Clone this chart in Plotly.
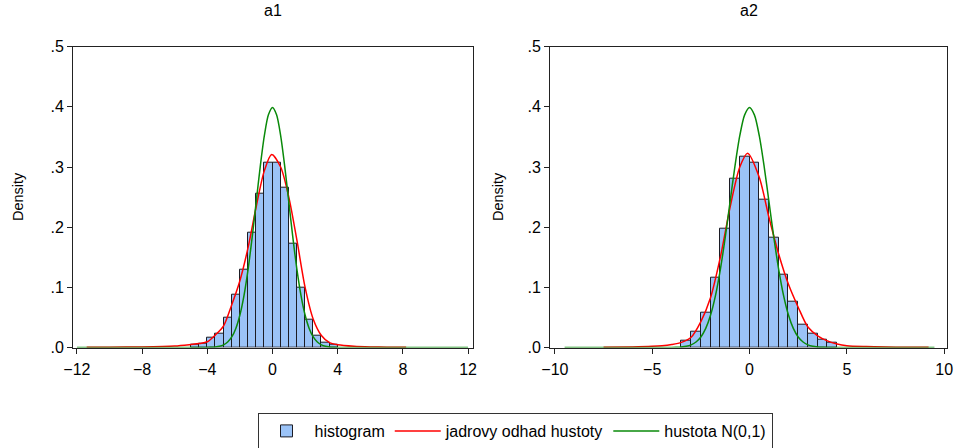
import plotly.graph_objects as go

# ---------------- data ----------------
bin_width = 0.5

# a1 histogram (bin left edges and densities)
a1_bin_left = [-5, -4.5, -4, -3.5, -3, -2.5, -2, -1.5, -1, -0.5, 0, 0.5, 1, 1.5, 2, 2.5, 3, 3.5]
a1_density = [0.0045, 0.006, 0.016, 0.023, 0.049, 0.0875, 0.129, 0.191, 0.255, 0.308,
              0.307, 0.265, 0.173, 0.099, 0.047, 0.020, 0.008, 0.004]

# a2 histogram
a2_bin_left = [-3.5, -3, -2.5, -2, -1.5, -1, -0.5, 0, 0.5, 1, 1.5, 2, 2.5, 3, 3.5, 4]
a2_density = [0.012, 0.0255, 0.0575, 0.116, 0.197, 0.280, 0.317, 0.307, 0.245, 0.183,
              0.121, 0.0765, 0.0385, 0.0235, 0.0128, 0.0075]

# kernel density estimates
a1_kde_x = [-11.4, -10, -8, -6, -5, -4.5, -4, -3.5, -3, -2.5, -2, -1.5, -1, -0.5, -0.05,
            0.5, 1, 1.5, 2, 2.5, 3, 3.5, 4, 5, 6, 7, 8.2]
a1_kde_y = [0.0004, 0.0006, 0.001, 0.0025, 0.005, 0.0065, 0.0095, 0.021, 0.036, 0.071,
            0.111, 0.166, 0.234, 0.294, 0.321, 0.300, 0.250, 0.178, 0.100, 0.047, 0.020,
            0.008, 0.0045, 0.002, 0.001, 0.0006, 0.0003]

a2_kde_x = [-7.5, -6, -5, -4.5, -4, -3.5, -3, -2.5, -2, -1.5, -1, -0.5, -0.1, 0.5, 1,
            1.5, 2, 2.5, 3, 3.5, 4, 4.5, 5, 6, 7, 8, 9.2]
a2_kde_y = [0.0004, 0.001, 0.002, 0.003, 0.005, 0.0085, 0.017, 0.043, 0.083, 0.150,
            0.233, 0.300, 0.323, 0.283, 0.216, 0.155, 0.105, 0.067, 0.034, 0.0195,
            0.011, 0.0058, 0.003, 0.0015, 0.0008, 0.0005, 0.0003]

# N(0,1) density values
norm_x_core = [-4, -3.75, -3.5, -3.25, -3, -2.75, -2.5, -2.25, -2, -1.75, -1.5, -1.25, -1,
               -0.75, -0.5, -0.25, 0, 0.25, 0.5, 0.75, 1, 1.25, 1.5, 1.75, 2, 2.25, 2.5,
               2.75, 3, 3.25, 3.5, 3.75, 4]
norm_y_core = [0.0001, 0.0004, 0.0009, 0.0020, 0.0044, 0.0091, 0.0175, 0.0317, 0.0540,
               0.0863, 0.1295, 0.1826, 0.2420, 0.3011, 0.3521, 0.3867, 0.3989, 0.3867,
               0.3521, 0.3011, 0.2420, 0.1826, 0.1295, 0.0863, 0.0540, 0.0317, 0.0175,
               0.0091, 0.0044, 0.0020, 0.0009, 0.0004, 0.0001]
a1_norm_range = [-12.0, 12.0]
a2_norm_range = [-9.5, 9.5]

y_tickvals = [0, 0.1, 0.2, 0.3, 0.4, 0.5]
y_ticktext = [".0", ".1", ".2", ".3", ".4", ".5"]
a1_xticks = [-12, -8, -4, 0, 4, 8, 12]
a2_xticks = [-10, -5, 0, 5, 10]

titles = ["a1", "a2"]
names = ["histogram", "jadrovy odhad hustoty", "hustota N(0,1)"]

# ---------------- styles ----------------
W, H = 956, 448
FONT = "Liberation Sans, Arial, Helvetica, sans-serif"
BAR_FILL = "#9bc3f7"
BAR_LINE = "#1c1c24"
RED = "#ff0000"
GREEN = "#0a8a0a"
AX = "#222222"

fig = go.Figure()

def add_panel(bin_left, dens, kx, ky, nrange, xa, ya, show):
    centers = [b + bin_width / 2 for b in bin_left]
    fig.add_trace(go.Bar(x=centers, y=dens, width=[bin_width] * len(centers),
                         marker=dict(color=BAR_FILL, line=dict(color=BAR_LINE, width=1)),
                         name=names[0], showlegend=show, legendrank=1,
                         xaxis=xa, yaxis=ya))
    fig.add_trace(go.Scatter(x=kx, y=ky, mode="lines",
                             line=dict(color=RED, width=1.5, shape="spline", smoothing=0.8),
                             name=names[1], showlegend=show, legendrank=2,
                             xaxis=xa, yaxis=ya))
    nx = [nrange[0]] + norm_x_core + [nrange[1]]
    ny = [0.0] + norm_y_core + [0.0]
    fig.add_trace(go.Scatter(x=nx, y=ny, mode="lines",
                             line=dict(color=GREEN, width=1.5, shape="spline", smoothing=0.8),
                             name=names[2], showlegend=show, legendrank=3,
                             xaxis=xa, yaxis=ya))

add_panel(a1_bin_left, a1_density, a1_kde_x, a1_kde_y, a1_norm_range, "x", "y", True)
add_panel(a2_bin_left, a2_density, a2_kde_x, a2_kde_y, a2_norm_range, "x2", "y2", False)

ydom = [1 - 347.5 / H, 1 - 46.7 / H]
x1dom = [73 / W, 473.3 / W]
x2dom = [550 / W, 947.3 / W]

common_x = dict(showline=True, linecolor=AX, linewidth=1, mirror=True, ticks="outside",
                ticklen=5, tickcolor=AX, showgrid=False, zeroline=False, automargin=False,
                tickfont=dict(family=FONT, size=16, color="#000"), ticklabelstandoff=2)
common_y = dict(showline=True, linecolor=AX, linewidth=1, mirror=True, ticks="outside",
                ticklen=5, tickcolor=AX, showgrid=False, zeroline=False, range=[0, 0.5],
                tickvals=y_tickvals, ticktext=y_ticktext, domain=ydom, automargin=False,
                tickfont=dict(family=FONT, size=16, color="#000"))

fig.update_layout(
    width=W, height=H, margin=dict(l=0, r=0, t=0, b=0, pad=0, autoexpand=False),
    paper_bgcolor="white", plot_bgcolor="white", bargap=0,
    xaxis=dict(common_x, domain=x1dom, range=[-12.24, 12.32], tickvals=a1_xticks, anchor="y"),
    yaxis=dict(common_y, anchor="x"),
    xaxis2=dict(common_x, domain=x2dom, range=[-10.25, 10.16], tickvals=a2_xticks, anchor="y2"),
    yaxis2=dict(common_y, anchor="x2"),
    legend=dict(orientation="h", x=515 / W, y=1 - 431 / H, xanchor="center", yanchor="middle",
                bordercolor="#333", borderwidth=1, bgcolor="white", itemwidth=46,
                font=dict(family=FONT, size=16, color="#000"), traceorder="normal"),
    showlegend=True,
)

ann = []
for t, dom in zip(titles, [x1dom, x2dom]):
    ann.append(dict(text=t, x=(dom[0] + dom[1]) / 2, y=1 - 10 / H, xref="paper", yref="paper",
                    showarrow=False, xanchor="center", yanchor="middle",
                    font=dict(family=FONT, size=16, color="#000")))
for xp in [18, 498]:
    ann.append(dict(text="Density", x=xp / W, y=1 - 197 / H, xref="paper", yref="paper",
                    showarrow=False, textangle=-90, xanchor="center", yanchor="middle",
                    font=dict(family=FONT, size=14.5, color="#000")))
fig.update_layout(annotations=ann)

fig.write_html("out.html", config={"displayModeBar": False},
               post_script="document.body.style.margin='0px';")
